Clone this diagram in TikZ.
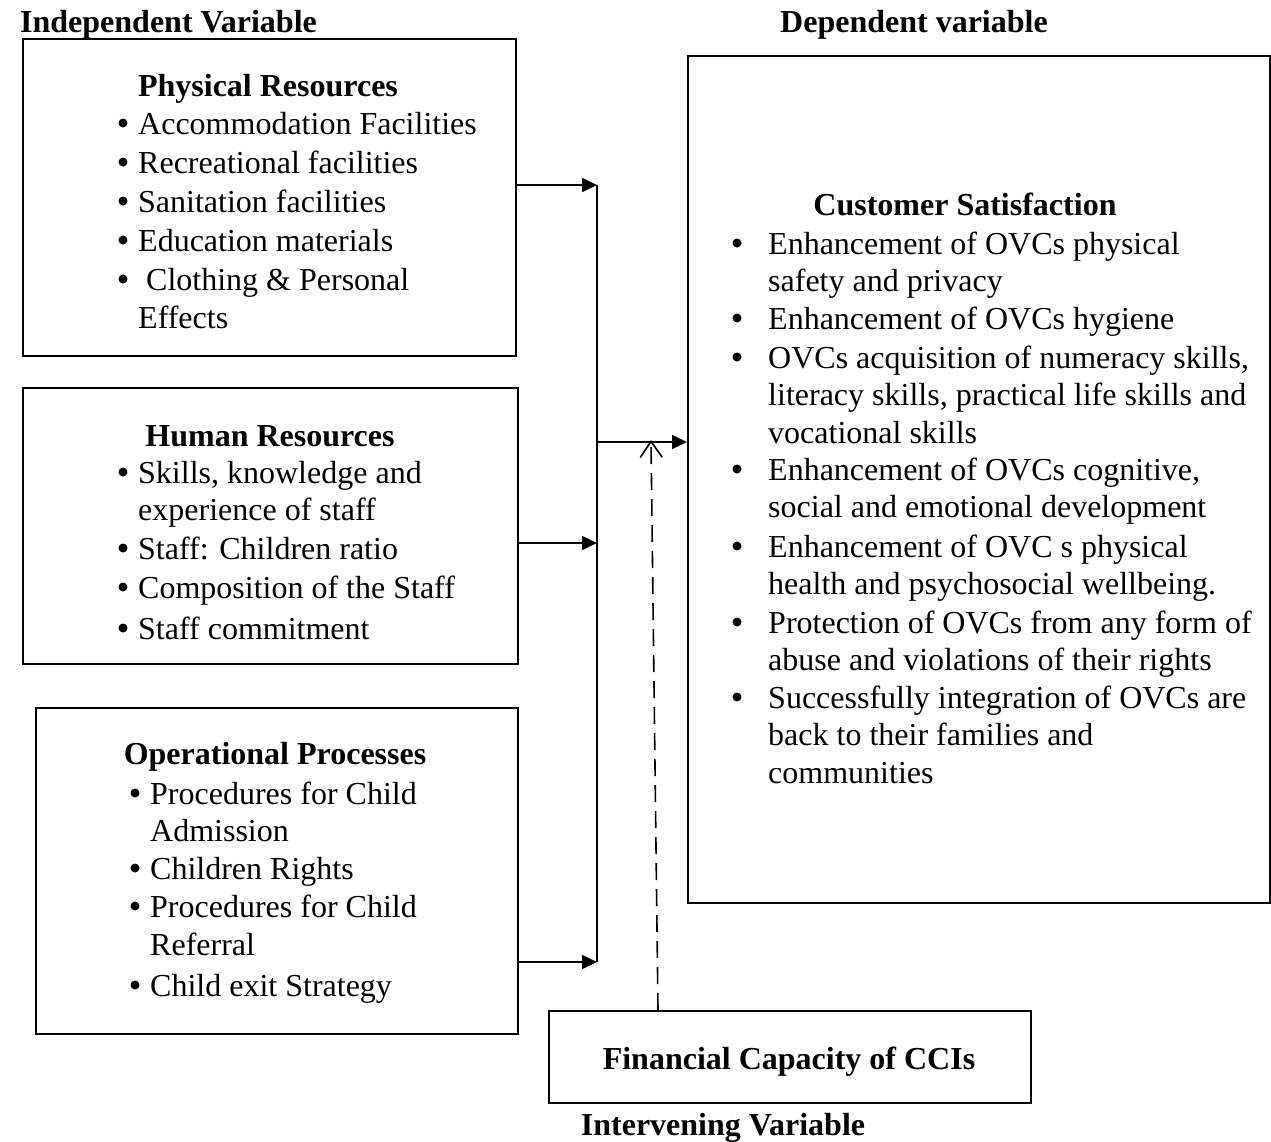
\documentclass[tikz,border=0pt]{standalone}
\usepackage{fontspec}
\setmainfont{Liberation Serif}
\usetikzlibrary{arrows.meta}
\begin{document}
\begin{tikzpicture}[x=1pt,y=-1pt,
  box/.style={draw,line width=1.6pt,inner sep=0,anchor=north west},
  txt/.style={inner sep=0,anchor=base west,font=\fontsize{32}{38}\selectfont},
  ttl/.style={inner sep=0,anchor=base,font=\fontsize{32}{38}\selectfont\bfseries},
  bul/.style={circle,fill=black,inner sep=0,minimum size=9pt,yshift=11pt},
  conn/.style={line width=1.6pt},
  arr/.style={conn,-{Triangle[length=15pt,width=14pt]}},
  darr/.style={line width=1.6pt,dash pattern=on 17pt off 9pt,-{Straight Barb[length=16pt,width=22pt]}}]
\useasboundingbox (0,0) rectangle (1271,1141);

% headings
\node[txt,font=\fontsize{32}{38}\selectfont\bfseries] (hind) at (20,32) {Independent Variable};
\node[txt,font=\fontsize{32}{38}\selectfont\bfseries] (hdep) at (780,32) {Dependent variable};
\node[ttl] (hint) at (723,1135) {Intervening Variable};

% boxes
\node[box,minimum width=493pt,minimum height=317pt] (pr) at (22,38) {};
\node[box,minimum width=495pt,minimum height=276pt] (hr) at (22,387) {};
\node[box,minimum width=482pt,minimum height=326pt] (op) at (35,707) {};
\node[box,minimum width=582pt,minimum height=847pt] (cs) at (687,55) {};
\node[box,minimum width=482pt,minimum height=92pt] (fc) at (548,1010) {};

% Physical resources
\node[ttl] (prt) at (268,96) {Physical Resources};
\node[bul] (prb1) at (123,134) {};
\node[txt] (pr1) at (138,134) {Accommodation Facilities};
\node[bul] (prb2) at (123,173) {};
\node[txt] (pr2) at (138,173) {Recreational facilities};
\node[bul] (prb3) at (123,212) {};
\node[txt] (pr3) at (138,212) {Sanitation facilities};
\node[bul] (prb4) at (123,251) {};
\node[txt] (pr4) at (138,251) {Education materials};
\node[bul] (prb5) at (123,290) {};
\node[txt] (pr5) at (146,290) {Clothing \& Personal};
\node[txt] (pr6) at (138,328) {Effects};

% Human resources
\node[ttl] (hrt) at (270,446) {Human Resources};
\node[bul] (hrb1) at (123,483) {};
\node[txt] (hr1) at (138,483) {Skills, knowledge and};
\node[txt] (hr2) at (138,520) {experience of staff};
\node[bul] (hrb3) at (123,559) {};
\node[txt] (hr3) at (138,559) {Staff: Children ratio};
\node[bul] (hrb4) at (123,598) {};
\node[txt] (hr4) at (138,598) {Composition of the Staff};
\node[bul] (hrb5) at (123,639) {};
\node[txt] (hr5) at (138,639) {Staff commitment};

% Operational processes
\node[ttl] (opt) at (275,764) {Operational Processes};
\node[bul] (opb1) at (135,804) {};
\node[txt] (op1) at (150,804) {Procedures for Child};
\node[txt] (op2) at (150,841) {Admission};
\node[bul] (opb3) at (135,879) {};
\node[txt] (op3) at (150,879) {Children Rights};
\node[bul] (opb4) at (135,917) {};
\node[txt] (op4) at (150,917) {Procedures for Child};
\node[txt] (op5) at (150,955) {Referral};
\node[bul] (opb6) at (135,996) {};
\node[txt] (op6) at (150,996) {Child exit Strategy};

% Customer satisfaction
\node[ttl] (cst) at (965,215) {Customer Satisfaction};
\node[bul] (csb1) at (737,254) {};
\node[txt] (cs1) at (768,254) {Enhancement of OVCs physical};
\node[txt] (cs2) at (768,291) {safety and privacy};
\node[bul] (csb3) at (737,329) {};
\node[txt] (cs3) at (768,329) {Enhancement of OVCs hygiene};
\node[bul] (csb4) at (737,368) {};
\node[txt] (cs4) at (768,368) {OVCs acquisition of numeracy skills,};
\node[txt] (cs5) at (768,405) {literacy skills, practical life skills and};
\node[txt] (cs6) at (768,443) {vocational skills};
\node[bul] (csb7) at (737,480) {};
\node[txt] (cs7) at (768,480) {Enhancement of OVCs cognitive,};
\node[txt] (cs8) at (768,517) {social and emotional development};
\node[bul] (csb9) at (737,557) {};
\node[txt] (cs9) at (768,557) {Enhancement of OVC s physical};
\node[txt] (cs10) at (768,594) {health and psychosocial wellbeing.};
\node[bul] (csb11) at (737,633) {};
\node[txt] (cs11) at (768,633) {Protection of OVCs from any form of};
\node[txt] (cs12) at (768,670) {abuse and violations of their rights};
\node[bul] (csb13) at (737,708) {};
\node[txt] (cs13) at (768,708) {Successfully integration of OVCs are};
\node[txt] (cs14) at (768,745) {back to their families and};
\node[txt] (cs15) at (768,783) {communities};

% Financial
\node[ttl] (fct) at (789,1069) {Financial Capacity of CCIs};

% connectors
\coordinate (jt) at (597,185);
\coordinate (jh) at (597,543);
\coordinate (jb) at (597,962);
\coordinate (jo) at (597,442);
\coordinate (dt) at (651,440);
\draw[conn] (jt) -- (jb);
\draw[arr] (pr.east |- jt) -- (jt);
\draw[arr] ([xshift=-2pt]hr.east |- jh) -- (jh);
\draw[arr] (op.east |- jb) -- (jb);
\draw[arr] (jo) -- (cs.west |- jo);
\draw[darr] ([xshift=110pt]fc.north west) -- (dt);
\end{tikzpicture}
\end{document}
